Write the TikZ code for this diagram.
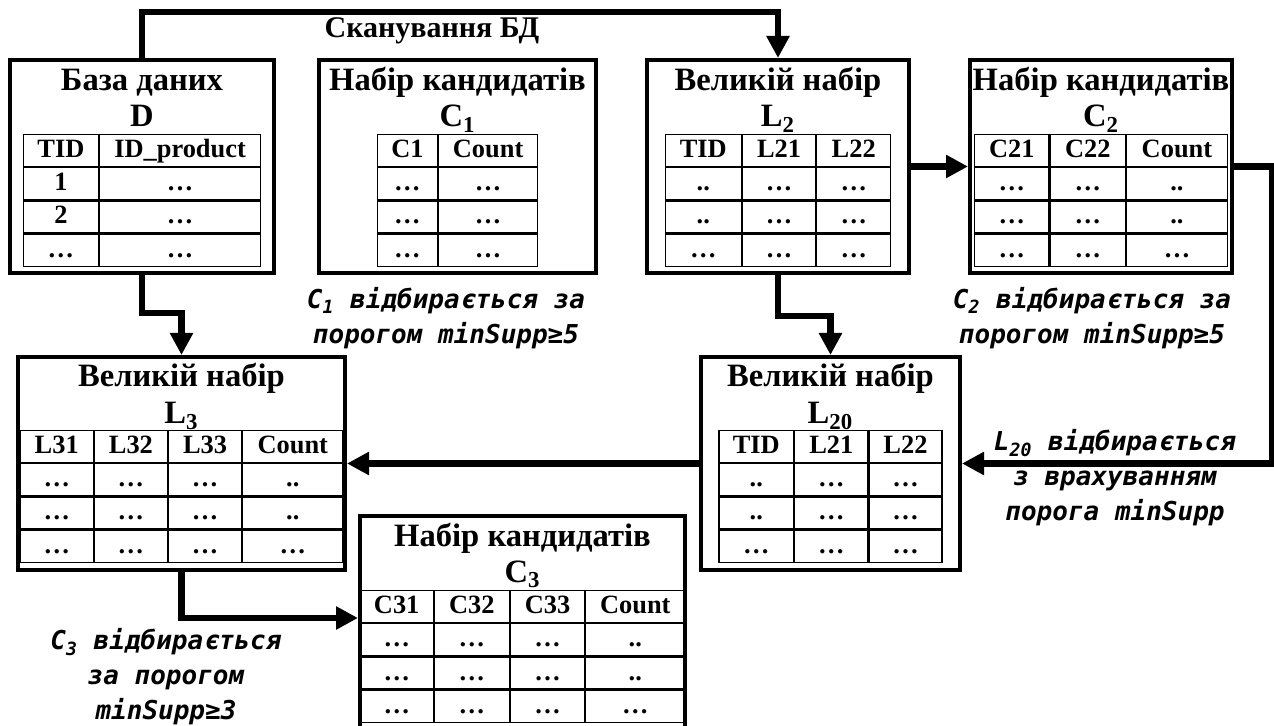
\documentclass[tikz,border=0pt]{standalone}
\usepackage{fontspec}
\setmainfont{Liberation Serif}
\newfontfamily\notefont[BoldItalicFont={DejaVu Sans Mono Bold Oblique}]{DejaVu Sans Mono}
\usetikzlibrary{positioning,matrix,arrows.meta}

\begin{document}
\begin{tikzpicture}[x=0.5pt,y=-0.5pt]
   \tikzstyle{blk}=[draw,line width=2pt,minimum height=106.5pt,inner sep=0pt]
   \tikzstyle{ttl}=[font=\bfseries\fontsize{16.3}{18}\selectfont,inner sep=0pt,anchor=base]
   \tikzstyle{tab}=[matrix of nodes,anchor=north,inner sep=0pt,outer sep=0pt,row sep=0pt,column sep=0pt,
      nodes={draw,line width=0.6pt,outer sep=0pt,inner sep=0pt,minimum height=16pt,
         text height=9.5pt,text depth=2.5pt,font=\bfseries\fontsize{13.2}{14}\selectfont}]
   \tikzstyle{note}=[font=\notefont\bfseries\itshape\fontsize{13}{17.5}\selectfont,align=center,inner sep=0pt]
   \tikzstyle{flow}=[line width=3.2pt,-{Triangle[length=11pt,width=11pt]}]

   \useasboundingbox (0,0) rectangle (1274,726);

   \node (db) [blk,minimum width=132pt] at (142,166.5) {};
   \node (dbT) [ttl] at ([yshift=-16.5pt]db.north) {База даних};
   \node (dbN) [ttl] at ([yshift=-34.5pt]db.north) {D};
   \matrix (dbTab) [tab,column 1/.style={nodes={minimum width=37.5pt}},
      column 2/.style={nodes={minimum width=80.5pt}}] at ([yshift=-38pt]db.north) {
      TID & ID\_product \\
      1 & … \\
      2 & … \\
      … & … \\
   };

   \node (c1) [blk,minimum width=138.5pt] at (457.5,166.5) {};
   \node (c1T) [ttl] at ([yshift=-16.5pt]c1.north) {Набір кандидатів};
   \node (c1N) [ttl] at ([yshift=-34.5pt]c1.north) {C\textsubscript{1}};
   \matrix (c1Tab) [tab,column 1/.style={nodes={minimum width=30pt}},
      column 2/.style={nodes={minimum width=49.5pt}}] at ([yshift=-38pt]c1.north) {
      C1 & Count \\
      … & … \\
      … & … \\
      … & … \\
   };

   \node (l2) [blk,minimum width=131pt] at (778,166.5) {};
   \node (l2T) [ttl] at ([yshift=-16.5pt]l2.north) {Великій набір};
   \node (l2N) [ttl] at ([yshift=-34.5pt]l2.north) {L\textsubscript{2}};
   \matrix (l2Tab) [tab,column 1/.style={nodes={minimum width=38pt}},
      column 2/.style={nodes={minimum width=36.5pt}},
      column 3/.style={nodes={minimum width=37pt}}] at ([yshift=-38pt]l2.north) {
      TID & L21 & L22 \\
      .. & … & … \\
      .. & … & … \\
      … & … & … \\
   };

   \node (c2) [blk,minimum width=131pt] at (1101,166.5) {};
   \node (c2T) [ttl] at ([yshift=-16.5pt]c2.north) {Набір кандидатів};
   \node (c2N) [ttl] at ([yshift=-34.5pt]c2.north) {C\textsubscript{2}};
   \matrix (c2Tab) [tab,column 1/.style={nodes={minimum width=37pt}},
      column 2/.style={nodes={minimum width=37.75pt}},
      column 3/.style={nodes={minimum width=50.25pt}}] at ([yshift=-38pt]c2.north) {
      C21 & C22 & Count \\
      … & … & .. \\
      … & … & .. \\
      … & … & … \\
   };

   \node (l3) [blk,minimum width=163.5pt] at (181.5,463.5) {};
   \node (l3T) [ttl] at ([yshift=-16pt]l3.north) {Великій набір};
   \node (l3N) [ttl] at ([yshift=-34.5pt]l3.north) {L\textsubscript{3}};
   \matrix (l3Tab) [tab,column 1/.style={nodes={minimum width=36.5pt}},
      column 2/.style={nodes={minimum width=36.5pt}},
      column 3/.style={nodes={minimum width=36.5pt}},
      column 4/.style={nodes={minimum width=50pt}}] at ([yshift=-37.5pt]l3.north) {
      L31 & L32 & L33 & Count \\
      … & … & … & .. \\
      … & … & … & .. \\
      … & … & … & … \\
   };

   \node (l20) [blk,minimum width=129.5pt] at (830.5,463.5) {};
   \node (l20T) [ttl] at ([yshift=-16pt]l20.north) {Великій набір};
   \node (l20N) [ttl] at ([yshift=-34.5pt]l20.north) {L\textsubscript{20}};
   \matrix (l20Tab) [tab,column 1/.style={nodes={minimum width=37.25pt}},
      column 2/.style={nodes={minimum width=36.5pt}},
      column 3/.style={nodes={minimum width=36.5pt}}] at ([yshift=-37.5pt]l20.north) {
      TID & L21 & L22 \\
      .. & … & … \\
      .. & … & … \\
      … & … & … \\
   };

   \node (c3) [blk,minimum width=162.5pt,minimum height=115pt] at (522.5,631) {};
   \node (c3T) [ttl] at ([yshift=-16pt]c3.north) {Набір кандидатів};
   \node (c3N) [ttl] at ([yshift=-34pt]c3.north) {C\textsubscript{3}};
   \matrix (c3Tab) [tab,column 1/.style={nodes={minimum width=36.5pt}},
      column 2/.style={nodes={minimum width=37.5pt}},
      column 3/.style={nodes={minimum width=37pt}},
      column 4/.style={nodes={minimum width=49.5pt}}] at ([yshift=-38pt]c3.north) {
      C31 & C32 & C33 & Count \\
      … & … & … & .. \\
      … & … & … & .. \\
      … & … & … & … \\
   };

   \node (scan) [font=\bfseries\fontsize{15}{18}\selectfont,inner sep=0pt] at (432,31) {Сканування БД};

   \draw [flow] (db.north) -- ++(0,-46) -| (l2.north) ;
   \draw [flow] (db.south) -- ++(0,38) -| (l3.north) ;
   \draw [flow] (l2.south) -- ++(0,41) -| (l20.north) ;
   \draw [flow] (l2.east) -- (c2.west) ;
   \draw [flow] (c2.east) -- ++(38,0) |- (l20.east) ;
   \draw [flow] (l20.west) -- (l3.east) ;
   \draw [flow] (l3.south) |- ([yshift=-52pt]c3.north west) ;

   \node (n1) [note] at (446,318) {C\textsubscript{1} відбирається за\\порогом minSupp≥5};
   \node (n2) [note] at (1092,318) {C\textsubscript{2} відбирається за\\порогом minSupp≥5};
   \node (n3) [note] at (1115,478) {L\textsubscript{20} відбирається\\з врахуванням\\порога minSupp};
   \node (n4) [note] at (166,677) {C\textsubscript{3} відбирається\\за порогом\\minSupp≥3};

\end{tikzpicture}
\end{document}
